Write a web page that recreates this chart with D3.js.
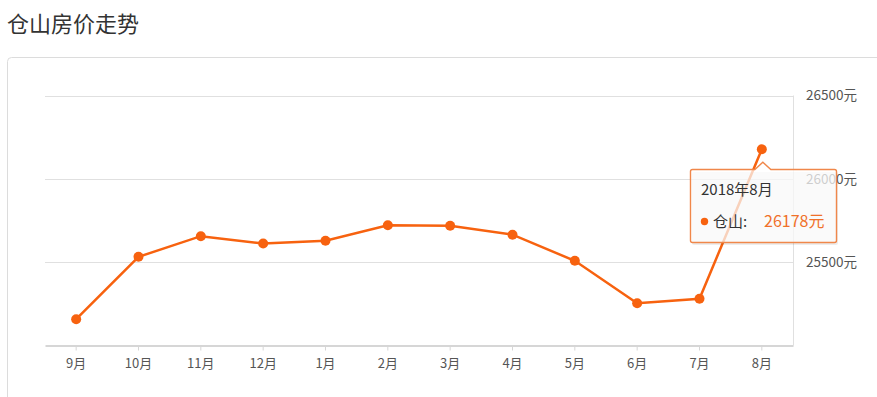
<!DOCTYPE html>
<html><head><meta charset="utf-8">
<script src="https://cdn.jsdelivr.net/npm/d3@7/dist/d3.min.js"></script>
<style>
html,body{margin:0;padding:0;background:#fff;overflow:hidden;}
body{width:877px;height:397px;font-family:"Noto Sans CJK SC","Noto Sans",sans-serif;}
</style></head><body>
<svg id="c" width="877" height="397"></svg>
<script>
const title = "仓山房价走势";
const categories = ["9月","10月","11月","12月","1月","2月","3月","4月","5月","6月","7月","8月"];
const prices = [25158,25532,25656,25612,25628,25722,25718,25665,25508,25254,25280,26178];
const yTicks = [25500,26000,26500];
const seriesName = "仓山";
const tooltipTitle = "2018年8月";
const tipIndex = 11;

const svg = d3.select("#c");
const orange = "#f7620f";
const font = "'Noto Sans CJK SC',sans-serif";

svg.append("text").attr("x",7).attr("y",32).attr("font-size",22).attr("fill","#333")
  .attr("font-family",font).text(title);

svg.append("rect").attr("x",7.5).attr("y",57.5).attr("width",900).attr("height",400)
  .attr("rx",4).attr("fill","#fff").attr("stroke","#dcdcdc");

const x = d3.scaleBand().domain(categories).range([45,793]);
const y = d3.scaleLinear().domain([25000,26500]).range([345.5,95.5]);

// gridlines
const g = svg.append("g");
yTicks.forEach(t=>{
  g.append("line").attr("x1",45).attr("x2",793).attr("y1",Math.round(y(t))+0.5).attr("y2",Math.round(y(t))+0.5)
   .attr("stroke","#e0e0e0").attr("stroke-width",1);
});
g.append("line").attr("x1",793.5).attr("x2",793.5).attr("y1",y(26500)).attr("y2",y(25000))
  .attr("stroke","#e0e0e0");
// x axis
const xa = svg.append("g").attr("transform",`translate(0,${y(25000)})`)
  .call(d3.axisBottom(x).tickSize(5).tickSizeOuter(0).tickPadding(8));
xa.select(".domain").attr("stroke","#d6d6d6").attr("stroke-width",2);
xa.selectAll(".tick line").attr("stroke","#d6d6d6");
xa.selectAll(".tick text").attr("font-size",13).attr("fill","#555").attr("font-family",font);
// y axis labels
const ya = svg.append("g").attr("transform","translate(806,0)")
  .call(d3.axisRight(y).tickValues(yTicks).tickSize(0).tickPadding(0).tickFormat(d=>d+"元"));
ya.select(".domain").remove();
ya.selectAll(".tick text").attr("font-size",13.5).attr("fill","#555").attr("font-family",font);

// line
const cx = d=>x(d)+x.bandwidth()/2;
const line = d3.line().x((d,i)=>cx(categories[i])).y(d=>y(d));
svg.append("path").datum(prices).attr("d",line).attr("fill","none")
  .attr("stroke",orange).attr("stroke-width",2.5);
svg.selectAll("circle.pt").data(prices).join("circle").attr("class","pt")
  .attr("cx",(d,i)=>cx(categories[i])).attr("cy",d=>y(d)).attr("r",5).attr("fill",orange);

// tooltip
const px = cx(categories[tipIndex]), py = y(prices[tipIndex]);
const bx=690.5, by=169.5, bw=146, bh=73;
const tip = svg.append("g");
tip.append("rect").attr("x",bx+1.5).attr("y",by+2.5).attr("width",bw).attr("height",bh).attr("rx",2)
  .attr("fill","rgba(0,0,0,0.07)");
const ax = px+1;
tip.append("path").attr("d",
  `M${bx+2},${by} L${ax-8},${by} L${ax},${py+13} L${ax+8},${by} L${bx+bw-2},${by} Q${bx+bw},${by} ${bx+bw},${by+2} L${bx+bw},${by+bh-2} Q${bx+bw},${by+bh} ${bx+bw-2},${by+bh} L${bx+2},${by+bh} Q${bx},${by+bh} ${bx},${by+bh-2} L${bx},${by+2} Q${bx},${by} ${bx+2},${by} Z`)
  .attr("fill","rgba(255,255,255,0.72)").attr("stroke","#f0874a").attr("stroke-width",1.4);
tip.append("text").attr("x",701).attr("y",195).attr("font-size",15).attr("fill","#333")
  .attr("font-family",font).text(tooltipTitle);
tip.append("circle").attr("cx",704.5).attr("cy",221.5).attr("r",3.7).attr("fill",orange);
tip.append("text").attr("x",713).attr("y",227).attr("font-size",15).attr("fill","#333")
  .attr("font-family",font).text(seriesName+":");
tip.append("text").attr("x",764).attr("y",227).attr("font-size",16).attr("fill","#f0712a")
  .attr("font-family",font).text(prices[tipIndex]+"元");
</script>
</body></html>
